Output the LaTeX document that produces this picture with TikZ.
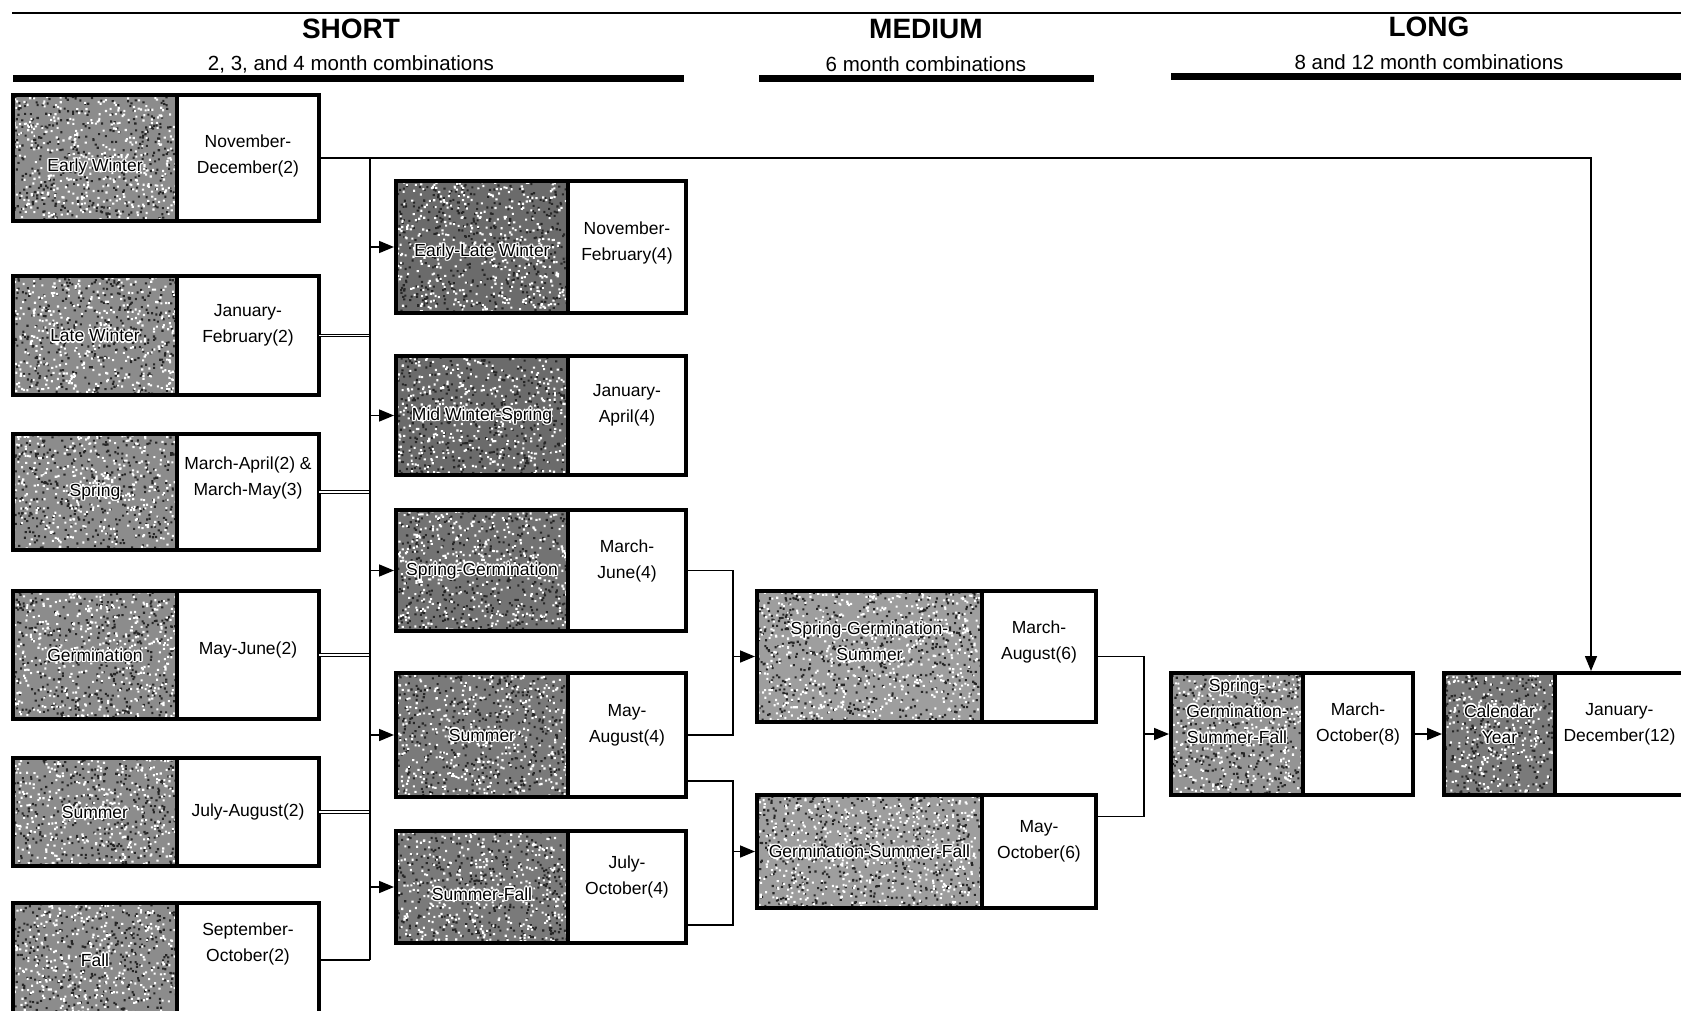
\documentclass[tikz,border=0pt]{standalone}
\usepackage{fontspec}
\setmainfont{Liberation Sans}
\usetikzlibrary{arrows.meta,fit,calc}
\def\lsh{0pt}
\def\rsh{10pt}
\newcommand{\speckle}[5]{%
  \fill[black!85] \foreach \k in {1,...,#5} { ({#1+rnd*(#3-2)},{#2+rnd*(#4-2)}) rectangle ++(2.1,2.1) };%
  \fill[white] \foreach \k in {1,...,#5} { ({#1+rnd*(#3-2)},{#2+rnd*(#4-2)}) rectangle ++(2.1,2.1) };%
}
\newcommand{\seasonpair}[9]{%
  \pgfmathsetmacro{\pwl}{#3-#2}%
  \pgfmathsetmacro{\pwr}{#4-#3}%
  \pgfmathsetmacro{\phh}{#6-#5}%
  \pgfmathtruncatemacro{\pn}{(\pwl/50)*\phh}%
  \node[shadepart, fill=#7, minimum width=\pwl pt, minimum height=\phh pt, anchor=north west] (#1l) at (#2,#5) {};%
  \speckle{#2}{#5}{\pwl}{\phh}{\pn}%
  \node[whitepart, minimum width=\pwr pt, minimum height=\phh pt, anchor=north west] (#1r) at (#3,#5) {};%
  \foreach \dx/\dy in {1.4/0,-1.4/0,0/1.4,0/-1.4,1/1,-1/1,1/-1,-1/-1}
    \node[boxtext, text=white, yshift=\lsh] at ([shift={(\dx,\dy)}]#1l.center) {#8};%
  \node[boxtext, yshift=\lsh] (#1lt) at (#1l.center) {#8};%
  \node[boxtext, yshift=\rsh] (#1rt) at (#1r.center) {#9};%
  \draw[divider] (#1r.north west) -- (#1r.south west);%
  \node[frame, fit=(#1l)(#1r)] (#1) {};%
}
\begin{document}
\begin{tikzpicture}[x=1pt,y=-1pt,
  boxtext/.style={font=\fontsize{17.5}{26}\selectfont, align=center, text=black, inner sep=1pt},
  shadepart/.style={draw=none, inner sep=0pt, outer sep=0pt},
  whitepart/.style={draw=none, fill=white, inner sep=0pt, outer sep=0pt},
  frame/.style={draw=black, line width=4pt, inner sep=0pt, outer sep=0pt},
  divider/.style={draw=black, line width=3.5pt},
  conn/.style={draw=black, line width=1.6pt},
  dbl/.style={draw=black, double=white, double distance=1.6pt, line width=1pt},
  arr/.style={conn, -{Triangle[length=15pt,width=12pt]}, shorten >=2pt},
  headrule/.style={line width=7pt},
  headtitle/.style={font=\fontsize{28}{30}\selectfont\bfseries},
  headsub/.style={font=\fontsize{20.5}{24}\selectfont},
]
\pgfmathsetseed{4711}
\useasboundingbox[fill=white] (0,0) rectangle (1681,1011);

% header
\draw[line width=1.8pt] (12,13) -- (1681,13);
\node[headtitle] (tshort) at (351,29) {SHORT};
\node[headsub] (sshort) at (351,64) {2, 3, and 4 month combinations};
\draw[headrule] (13,79) -- (684,79);
\node[headtitle] (tmed) at (926,29) {MEDIUM};
\node[headsub] (smed) at (926,64) {6 month combinations};
\draw[headrule] (759,79) -- (1094,79);
\node[headtitle] (tlong) at (1429,27) {LONG};
\node[headsub] (slong) at (1429,62) {8 and 12 month combinations};
\draw[headrule] (1171,77) -- (1681,77);

% column 1
{\def\lsh{-9pt}\def\rsh{2.5pt}\seasonpair{c1a}{13}{177}{319}{95}{221}{black!45}{Early Winter}{November-\\December(2)}}
\seasonpair{c1b}{13}{177}{319}{276}{395}{black!45}{Late Winter}{January-\\February(2)}
{\def\rsh{14pt}\seasonpair{c1c}{13}{177}{319}{434}{550}{black!45}{Spring}{March-April(2) \&\\March-May(3)}}
{\def\rsh{5pt}\seasonpair{c1d}{13}{177}{319}{591}{719}{black!45}{Germination}{May-June(2)}}
{\def\rsh{0pt}\seasonpair{c1e}{13}{177}{319}{758}{866}{black!45}{Summer}{July-August(2)}}
{\def\rsh{16pt}\seasonpair{c1f}{13}{177}{319}{903}{1017}{black!45}{Fall}{September-\\October(2)}}

% column 2
{\def\lsh{-5pt}\def\rsh{4pt}\seasonpair{c2a}{396}{568}{686}{181}{313}{black!58}{Early-Late Winter}{November-\\February(4)}}
\seasonpair{c2b}{396}{568}{686}{356}{475}{black!58}{Mid Winter-Spring}{January-\\April(4)}
\seasonpair{c2c}{396}{568}{686}{510}{631}{black!55}{Spring-Germination}{March-\\June(4)}
\seasonpair{c2d}{396}{568}{686}{673}{797}{black!52}{Summer}{May-\\August(4)}
{\def\lsh{-7pt}\seasonpair{c2e}{396}{568}{686}{831}{943}{black!52}{Summer-Fall}{July-\\October(4)}}

% column 3
{\def\lsh{15pt}\def\rsh{15pt}\seasonpair{c3a}{757}{982}{1096}{591}{722}{black!38}{Spring-Germination-\\Summer}{March-\\August(6)}}
\seasonpair{c3b}{757}{982}{1096}{795}{908}{black!38}{Germination-Summer-Fall}{May-\\October(6)}

% column 4
{\def\lsh{23pt}\seasonpair{c4a}{1171}{1303}{1413}{673}{795}{black!42}{Spring-\\Germination-\\Summer-Fall}{March-\\October(8)}}
{\def\lsh{10pt}\seasonpair{cal}{1444}{1555}{1684}{673}{795}{black!52}{Calendar\\Year}{January-\\December(12)}}

% connectors
\coordinate (bus) at (370,0);
\coordinate (br1) at (733,0);
\coordinate (br2) at (1144,0);
\coordinate (lx) at (1591,0);

\foreach \n in {c1b,c1c,c1d,c1e} \draw[dbl] (\n.east) -- (\n.east -| bus);
\draw[conn] (c1f.east) -- (c1f.east -| bus);
\draw[conn] (c1a.east -| bus) -- (c1f.east -| bus);
\draw[arr] (c1a.east) -| (cal.north -| lx);
\foreach \n in {c2a,c2b,c2c,c2d,c2e} \draw[arr] (\n.west -| bus) -- (\n.west);

\coordinate (m1) at ([yshift=-46pt]c2d.east);
\coordinate (m2) at ([yshift=-38pt]c2e.east);
\coordinate (m3) at ([yshift=35pt]c3b.east);
\draw[conn] (c2c.east) -- (c2c.east -| br1) -- (c2d.east -| br1) -- (c2d.east);
\draw[conn] (m1) -- (m1 -| br1) -- (m2 -| br1) -- (m2);
\draw[arr] (c3a.west -| br1) -- (c3a.west);
\draw[arr] (c3b.west -| br1) -- (c3b.west);

\draw[conn] (c3a.east) -- (c3a.east -| br2) -- (m3 -| br2) -- (m3);
\draw[arr] (c4a.west -| br2) -- (c4a.west);
\draw[arr] (c4a.east) -- (cal.west);
\end{tikzpicture}
\end{document}
